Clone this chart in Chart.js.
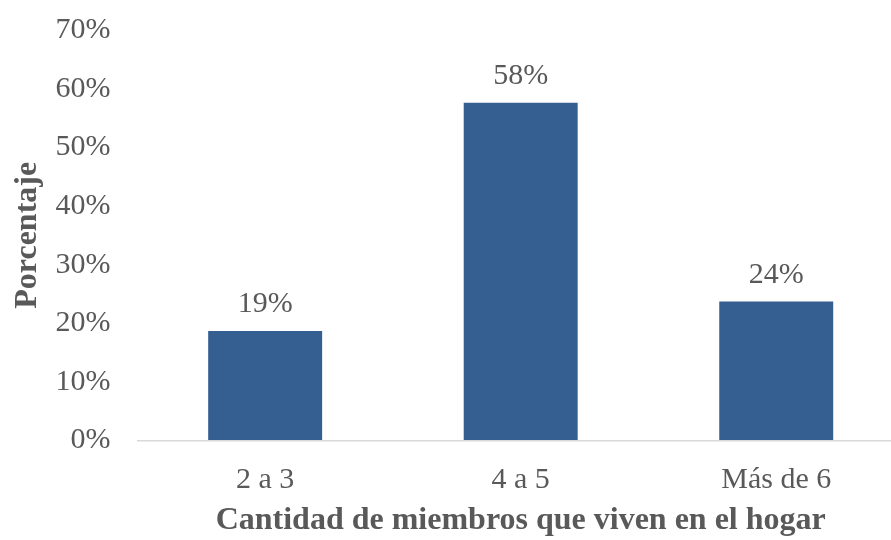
<!DOCTYPE html>
<html>
<head>
<meta charset="utf-8">
<script src="https://cdn.jsdelivr.net/npm/chart.js@4.4.1/dist/chart.umd.min.js"></script>
<style>
  html, body { margin: 0; padding: 0; background: #fff; overflow: hidden; }
  #wrap { width: 904px; height: 540px; }
</style>
</head>
<body>
<div id="wrap"><canvas id="myChart"></canvas></div>
<script>
var categorias = ["2 a 3", "4 a 5", "Más de 6"];
var valores = [0.187, 0.576, 0.237];
var etiquetas = ["19%", "58%", "24%"];
var colorBarra = "#365F91";
var gris = "#595959";
var fuente = "'Liberation Serif', 'Times New Roman', serif";

// etiquetas encima de cada barra
var etiquetasBarras = {
  id: "etiquetasBarras",
  afterDatasetsDraw: function(chart) {
    var ctx = chart.ctx;
    var meta = chart.getDatasetMeta(0);
    ctx.save();
    ctx.font = "30px " + fuente;
    ctx.fillStyle = gris;
    ctx.textAlign = "center";
    ctx.textBaseline = "alphabetic";
    meta.data.forEach(function(bar, i) {
      ctx.fillText(etiquetas[i], bar.x, bar.y - 19);
    });
    ctx.restore();
  }
};

new Chart("myChart", {
  type: "bar",
  data: {
    labels: categorias,
    datasets: [{
      data: valores,
      backgroundColor: colorBarra,
      categoryPercentage: 1,
      barPercentage: 0.446
    }]
  },
  options: {
    responsive: true,
    maintainAspectRatio: false,
    animation: false,
    layout: { padding: { top: 30, left: 9, right: 0, bottom: 0 } },
    plugins: {
      legend: { display: false },
      tooltip: { enabled: false }
    },
    scales: {
      x: {
        grid: { display: false },
        border: { display: true, color: "#d9d9d9", width: 1.5 },
        ticks: { color: gris, font: { family: fuente, size: 30 }, padding: 14 },
        title: {
          display: true,
          text: "Cantidad de miembros que viven en el hogar",
          color: gris,
          font: { family: fuente, size: 32, weight: "bold" },
          padding: { top: -11, bottom: 0 }
        }
      },
      y: {
        min: 0,
        max: 0.7,
        // marcas invisibles solo para separar las etiquetas del eje
        grid: { display: true, drawOnChartArea: false, drawTicks: true, tickLength: 23, tickColor: "rgba(0,0,0,0)" },
        border: { display: false },
        ticks: {
          stepSize: 0.1,
          color: gris,
          font: { family: fuente, size: 30 },
          padding: 4,
          callback: function(v) { return Math.round(v * 100) + "%"; }
        },
        title: {
          display: true,
          text: "Porcentaje",
          color: gris,
          font: { family: fuente, size: 32, weight: "bold" },
          padding: { top: 0, bottom: 4 }
        }
      }
    }
  },
  plugins: [etiquetasBarras]
});
</script>
</body>
</html>
